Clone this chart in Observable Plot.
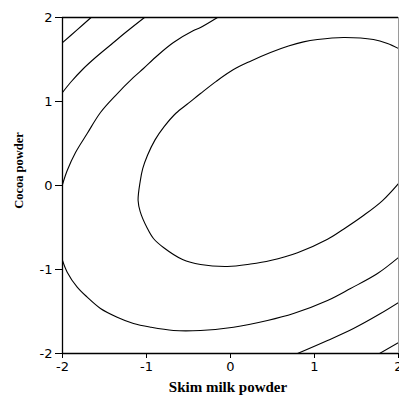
<!DOCTYPE html>
<html>
<head>
<meta charset="utf-8">
<script src="https://cdn.jsdelivr.net/npm/d3@7"></script>
<script src="https://cdn.jsdelivr.net/npm/@observablehq/plot@0.6"></script>
<style>
  html, body { margin: 0; padding: 0; background: #fff; }
</style>
</head>
<body>
<div id="chart"></div>
<script>
// Axis titles and ticks
const xTitle = "Skim milk powder";
const yTitle = "Cocoa powder";
const xTicks = [-2, -1, 0, 1, 2];
const yTicks = [-2, -1, 0, 1, 2];

// Contour lines: [x, y] pairs
const contourA = [[-2, 1.70], [-1.83, 1.85], [-1.66, 2.0]];
const contourB = [[-2, 1.107], [-1.905, 1.226], [-1.75, 1.393], [-1.607, 1.524], [-1.393, 1.702], [-1.25, 1.821], [-1.024, 2.0]];
const contourC = [[-2, 0.012], [-1.944, 0.179], [-1.845, 0.393], [-1.706, 0.619], [-1.548, 0.869], [-1.369, 1.071], [-1.155, 1.286], [-1.036, 1.393], [-0.869, 1.548], [-0.679, 1.702], [-0.44, 1.845], [-0.357, 1.881], [-0.155, 2.0]];
const contourD = [[2, 0.024], [1.81, -0.179], [1.583, -0.357], [1.345, -0.52], [1.155, -0.64], [0.798, -0.8], [0.476, -0.893], [0.238, -0.935], [-0.036, -0.964], [-0.357, -0.94], [-0.571, -0.881], [-0.798, -0.738], [-0.917, -0.631], [-0.995, -0.5], [-1.075, -0.31], [-1.1, -0.179], [-1.075, 0.05], [-1.045, 0.2], [-0.988, 0.36], [-0.9, 0.54], [-0.79, 0.7], [-0.65, 0.86], [-0.5, 0.98], [-0.357, 1.095], [-0.17, 1.24], [0.036, 1.38], [0.238, 1.48], [0.476, 1.583], [0.69, 1.66], [0.869, 1.71], [1.036, 1.738], [1.345, 1.762], [1.702, 1.738], [1.869, 1.69], [2, 1.631]];
const contourE = [[-2, -0.893], [-1.944, -1.032], [-1.825, -1.21], [-1.706, -1.329], [-1.548, -1.464], [-1.349, -1.568], [-1.155, -1.643], [-0.952, -1.687], [-0.679, -1.726], [-0.357, -1.726], [0.036, -1.687], [0.44, -1.607], [0.75, -1.524], [1.155, -1.369], [1.429, -1.226], [1.75, -1.048], [2, -0.857]];
const contourF = [[0.798, -2], [1.155, -1.845], [1.464, -1.702], [1.786, -1.524], [2, -1.393]];
const contourG = [[1.774, -2], [2, -1.869]];

const contours = [contourA, contourB, contourC, contourD, contourE, contourF, contourG];
const lineData = contours.flatMap((c, i) => c.map(([x, y]) => ({x, y, id: i})));

const chart = Plot.plot({
  width: 399,
  height: 399,
  marginLeft: 62,
  marginTop: 17,
  marginRight: 1,
  marginBottom: 46,
  style: {fontFamily: "DejaVu Sans", fontSize: "13px", color: "#000", background: "#fff"},
  x: {domain: [-2, 2]},
  y: {domain: [-2, 2]},
  marks: [
    Plot.line(lineData, {x: "x", y: "y", z: "id", stroke: "#000", strokeWidth: 1.1, curve: "catmull-rom", clip: true}),
    Plot.ruleX([2], {stroke: "#9a9a9a", strokeWidth: 1}),
    Plot.ruleY([2], {stroke: "#000", strokeWidth: 1.3}),
    Plot.ruleX([-2], {stroke: "#000", strokeWidth: 1.3}),
    Plot.ruleY([-2], {stroke: "#000", strokeWidth: 1.3}),
    Plot.axisX({ticks: xTicks, tickSize: 5, tickPadding: 3, label: null, fontSize: 13, tickFormat: d => String(d)}),
    Plot.axisY({ticks: yTicks, tickSize: 7, tickPadding: 3, label: null, fontSize: 13, tickFormat: d => String(d)}),
    Plot.text([xTitle], {frameAnchor: "bottom", dy: 38, dx: -2.5, fontFamily: "Liberation Serif", fontWeight: "bold", fontSize: 15, textAnchor: "middle", fill: "#000"}),
    Plot.text([yTitle], {frameAnchor: "left", dx: -43.5, dy: -15, rotate: -90, fontFamily: "Liberation Serif", fontWeight: "bold", fontSize: 12.5, textAnchor: "middle", fill: "#000"})
  ]
});
document.getElementById("chart").appendChild(chart);
</script>
</body>
</html>
